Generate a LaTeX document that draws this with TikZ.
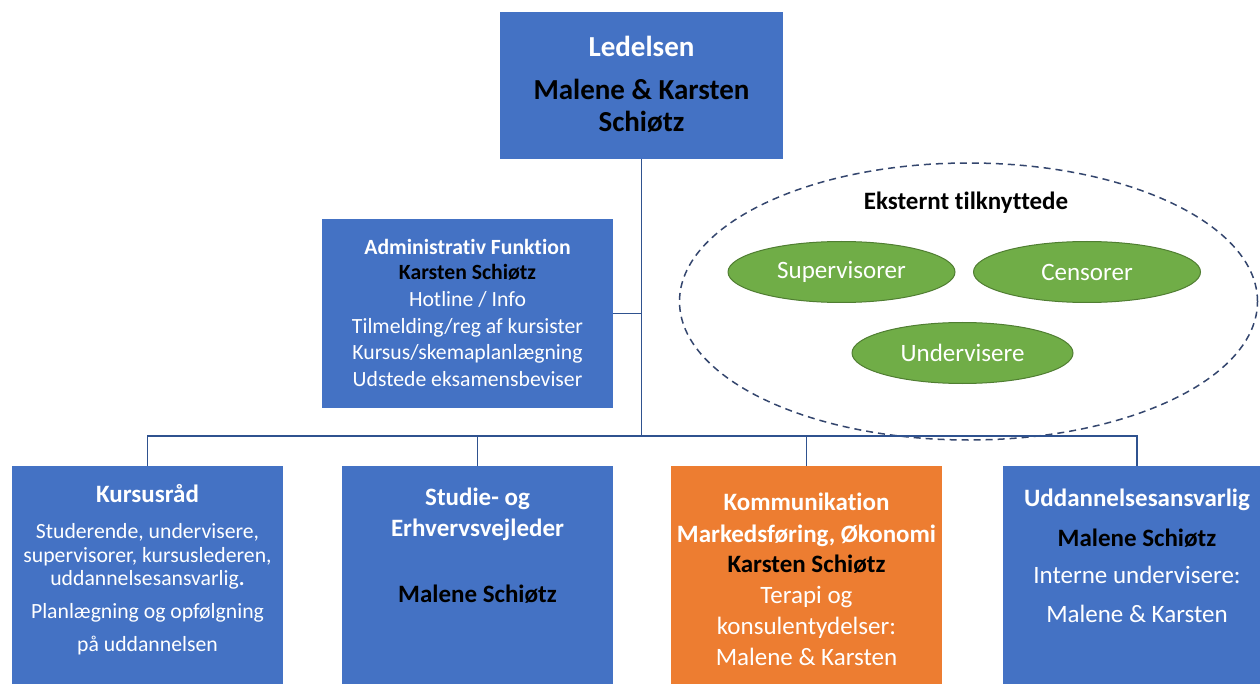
\documentclass[tikz,border=0pt]{standalone}
\usepackage{fontspec}
\setmainfont{Carlito}[Ligatures=NoCommon]
\usetikzlibrary{shapes.geometric}
\definecolor{boxblue}{HTML}{4472C4}
\definecolor{boxorange}{HTML}{ED7D31}
\definecolor{boxgreen}{HTML}{70AD47}
\definecolor{greenedge}{HTML}{507E32}
\definecolor{linecol}{HTML}{2F528F}
\definecolor{dashcol}{HTML}{34466E}
\begin{document}
\begin{tikzpicture}[x=1pt,y=-1pt,
  bluebox/.style={rectangle,fill=boxblue,draw=none,inner sep=0pt},
  orangebox/.style={rectangle,fill=boxorange,draw=none,inner sep=0pt},
  greenell/.style={ellipse,fill=boxgreen,draw=greenedge,line width=1pt,inner sep=0pt,
     minimum width=227pt,minimum height=61pt,text=white,font=\fontsize{25}{29}\selectfont},
  conn/.style={draw=linecol,line width=1.6pt},
  tl/.style={anchor=base,inner sep=0pt},
  wb/.style={tl,text=white,font=\bfseries},
  kb/.style={tl,text=black,font=\bfseries},
  wn/.style={tl,text=white},
  big/.style={font=\fontsize{29}{33}\selectfont\bfseries},
  midb/.style={font=\fontsize{25}{29}\selectfont\bfseries},
  midn/.style={font=\fontsize{25}{29}\selectfont},
  smallb/.style={font=\fontsize{21.7}{25}\selectfont\bfseries},
  smalln/.style={font=\fontsize{21.7}{25}\selectfont}]
\useasboundingbox (0,0) rectangle (1260,684);
\clip (0,0) rectangle (1260,684);
\fill[white] (0,0) rectangle (1260,684);

% boxes
\node[bluebox,minimum width=283pt,minimum height=147pt] (lead) at (641.5,85.5) {};
\node[bluebox,minimum width=291pt,minimum height=189pt] (adm) at (467.5,313.5) {};
\node[bluebox,minimum width=271pt,minimum height=240pt] (kurs) at (147.5,586) {};
\node[bluebox,minimum width=271pt,minimum height=240pt] (stud) at (477.5,586) {};
\node[orangebox,minimum width=271pt,minimum height=240pt] (komm) at (806.5,586) {};
\node[bluebox,minimum width=268pt,minimum height=240pt] (udd) at (1137,586) {};

% external group
\node[ellipse,draw=dashcol,dash pattern=on 7pt off 5pt,line width=1.5pt,minimum width=578pt,minimum height=277pt,inner sep=0pt] (ext) at (968.5,301.5) {};
\node[kb,midb] (exttitle) at (966,209.5) {Eksternt tilknyttede};
\node[greenell] (sup) at (841.5,272) {Supervisorer};
\node[greenell] (cen) at (1087,272) {Censorer};
\node[greenell,minimum width=221pt] (und) at (962.5,353) {Undervisere};

% connectors
\coordinate (junction) at (641.5,436);
\draw[conn] (lead.south) -- (junction);
\draw[conn] (adm.east) -- (adm.east -| lead.south);
\draw[conn] (kurs.north) |- (junction) -| (udd.north);
\draw[conn] (stud.north) -- (stud.north |- junction);
\draw[conn] (komm.north) -- (komm.north |- junction);

% Ledelsen texts
\node[wb,big] (lead1) at (641.5,57) {Ledelsen};
\node[kb,big] (lead2) at (641.5,100) {Malene \& Karsten};
\node[kb,big] (lead3) at (641.5,132) {Schiøtz};

% Admin texts
\node[wb,smallb] (adm1) at (467.5,254.5) {Administrativ Funktion};
\node[kb,smallb] (adm2) at (467.5,280) {Karsten Schiøtz};
\node[wn,smalln] (adm3) at (467.5,306.5) {Hotline / Info};
\node[wn,smalln] (adm4) at (467.5,333.5) {Tilmelding/reg af kursister};
\node[wn,smalln] (adm5) at (467.5,359.5) {Kursus/skemaplanlægning};
\node[wn,smalln] (adm6) at (467.5,386.5) {Udstede eksamensbeviser};

% Kursusraad texts
\node[wb,midb] (kurs1) at (147.5,502) {Kursusråd};
\node[wn,smalln] (kurs2) at (147.5,538) {Studerende, undervisere,};
\node[wn,smalln] (kurs3) at (147.5,562) {supervisorer, kursuslederen,};
\node[wn,smalln] (kurs4) at (147.5,585) {uddannelsesansvarlig\textbf{.}};
\node[wn,smalln] (kurs5) at (147.5,618) {Planlægning og opfølgning};
\node[wn,smalln] (kurs6) at (147.5,651) {på uddannelsen};

% Studie texts
\node[wb,midb] (stud1) at (477.5,505) {Studie- og};
\node[wb,midb] (stud2) at (477.5,536) {Erhvervsvejleder};
\node[kb,midb] (stud3) at (477.5,602) {Malene Schiøtz};

% Kommunikation texts
\node[wb,midb] (komm1) at (806.5,510) {Kommunikation};
\node[wb,midb] (komm2) at (806.5,542) {Markedsføring, Økonomi};
\node[kb,midb] (komm3) at (806.5,572) {Karsten Schiøtz};
\node[wn,midn] (komm4) at (806.5,603) {Terapi og};
\node[wn,midn] (komm5) at (806.5,634) {konsulentydelser:};
\node[wn,midn] (komm6) at (806.5,665) {Malene \& Karsten};

% Uddannelsesansvarlig texts
\node[wb,midb] (udd1) at (1137,506) {Uddannelsesansvarlig};
\node[kb,midb] (udd2) at (1137,546) {Malene Schiøtz};
\node[wn,midn] (udd3) at (1137,583) {Interne undervisere:};
\node[wn,midn] (udd4) at (1137,622) {Malene \& Karsten};
\end{tikzpicture}
\end{document}
